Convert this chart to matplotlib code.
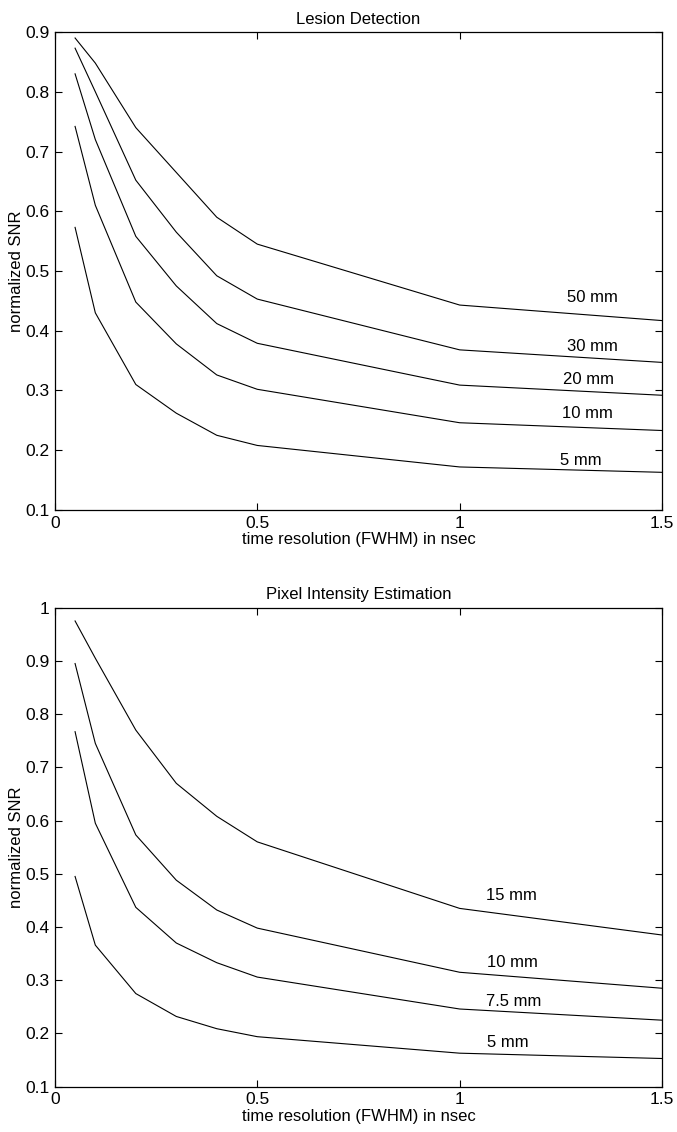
import numpy as np
import matplotlib.pyplot as plt

plt.rcParams['font.family'] = ['Liberation Sans', 'DejaVu Sans']

# time resolution (FWHM) in nsec
t = [0.05, 0.1, 0.2, 0.3, 0.4, 0.5, 1.0, 1.5]

# lesion detection
lesion_labels = ['50 mm', '30 mm', '20 mm', '10 mm', '5 mm']
snr_50 = [0.890, 0.848, 0.740, 0.665, 0.590, 0.545, 0.443, 0.417]
snr_30 = [0.873, 0.800, 0.652, 0.565, 0.492, 0.453, 0.368, 0.347]
snr_20 = [0.830, 0.720, 0.558, 0.475, 0.412, 0.379, 0.309, 0.292]
snr_10 = [0.742, 0.610, 0.448, 0.378, 0.326, 0.302, 0.246, 0.233]
snr_5 = [0.573, 0.430, 0.310, 0.262, 0.225, 0.208, 0.172, 0.163]
lesion_lab_x = [1.327, 1.327, 1.317, 1.315, 1.300]
lesion_lab_y = [0.455, 0.374, 0.318, 0.261, 0.182]

# pixel intensity estimation
pixel_labels = ['15 mm', '10 mm', '7.5 mm', '5 mm']
pix_15 = [0.975, 0.905, 0.770, 0.670, 0.608, 0.560, 0.435, 0.385]
pix_10 = [0.895, 0.745, 0.573, 0.488, 0.432, 0.398, 0.315, 0.285]
pix_75 = [0.767, 0.595, 0.437, 0.370, 0.333, 0.306, 0.246, 0.225]
pix_5 = [0.495, 0.366, 0.275, 0.232, 0.209, 0.194, 0.163, 0.153]
pixel_lab_x = [1.129, 1.131, 1.134, 1.120]
pixel_lab_y = [0.459, 0.334, 0.261, 0.184]


def style_axes(ax, yticks):
    ax.set_xlim(0, 1.5)
    ax.set_xticks([0, 0.5, 1, 1.5])
    ax.set_xticklabels(['0', '0.5', '1', '1.5'])
    ax.set_yticks(yticks)
    ax.set_yticklabels([f'{v:g}' for v in yticks])
    ax.tick_params(direction='in', top=True, right=True, length=5,
                   width=0.8, labelsize=12.5, pad=4)
    for s in ax.spines.values():
        s.set_linewidth(0.9)
    ax.set_xlabel('time resolution (FWHM) in nsec', fontsize=12, labelpad=1)
    ax.set_ylabel('normalized SNR', fontsize=12, labelpad=1)


fig = plt.figure(figsize=(6.77, 11.32), dpi=100)

ax1 = fig.add_axes([0.081, 0.5495, 0.897, 0.4222])
for y in [snr_50, snr_30, snr_20, snr_10, snr_5]:
    ax1.plot(t, y, color='black', linewidth=0.8)
for lab, x, y in zip(lesion_labels, lesion_lab_x, lesion_lab_y):
    ax1.text(x, y, lab, ha='center', va='center', fontsize=12)
ax1.set_ylim(0.1, 0.9)
style_axes(ax1, [0.1, 0.2, 0.3, 0.4, 0.5, 0.6, 0.7, 0.8, 0.9])
ax1.set_title('Lesion Detection', fontsize=12, pad=6)

ax2 = fig.add_axes([0.081, 0.04, 0.897, 0.4232])
for y in [pix_15, pix_10, pix_75, pix_5]:
    ax2.plot(t, y, color='black', linewidth=0.8)
for lab, x, y in zip(pixel_labels, pixel_lab_x, pixel_lab_y):
    ax2.text(x, y, lab, ha='center', va='center', fontsize=12)
ax2.set_ylim(0.1, 1.0)
style_axes(ax2, [0.1, 0.2, 0.3, 0.4, 0.5, 0.6, 0.7, 0.8, 0.9, 1.0])
ax2.set_title('Pixel Intensity Estimation', fontsize=12, pad=6)

fig.savefig('out.png', dpi=100)
